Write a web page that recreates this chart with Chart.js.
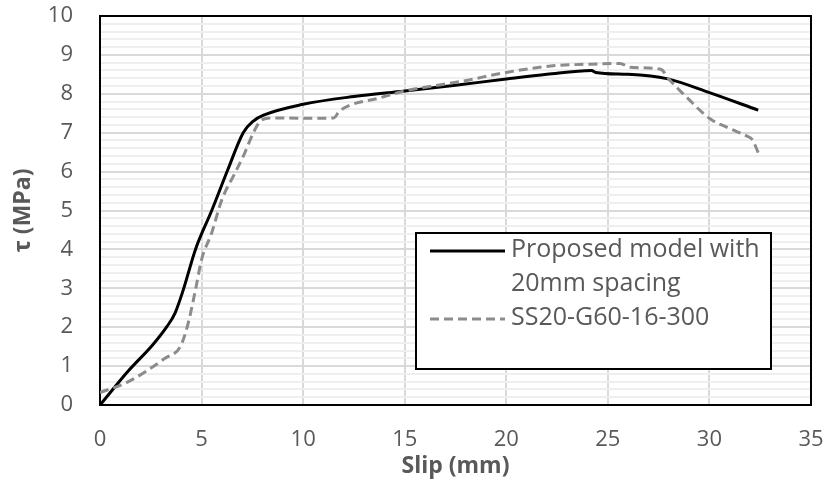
<!DOCTYPE html>
<html>
<head>
<meta charset="utf-8">
<script src="https://cdn.jsdelivr.net/npm/chart.js@4.4.1/dist/chart.umd.min.js"></script>
<style>
    html, body { margin: 0; padding: 0; background: #fff; }
    #wrap { width: 826px; height: 484px; }
</style>
</head>
<body>
<div id="wrap"><canvas id="slipChart" width="826" height="484"></canvas></div>
<script>
// slip (mm) and bond stress (MPa)
var slipModel = [0, 1.4, 2.6, 3.3, 3.7, 4.1, 4.7, 5.5, 6.3, 7.05, 7.55, 8.05, 10, 12.5, 15, 17.5, 20, 22, 24.2, 24.4, 26, 27.9, 30, 32.4];
var tauModel  = [0, 0.88, 1.55, 2.02, 2.37, 2.96, 4.0, 5.0, 6.06, 7.0, 7.3, 7.45, 7.73, 7.93, 8.07, 8.22, 8.38, 8.5, 8.6, 8.55, 8.5, 8.39, 8.03, 7.58];

var slipTest = [0, 1.4, 3.2, 3.95, 4.3, 4.7, 5.0, 5.5, 6.0, 6.65, 7.1, 7.55, 7.9, 8.4, 10.2, 11.5, 11.8, 13.8, 15, 17.9, 20, 22.3, 24, 25.6, 26.1, 27.6, 28.0, 28.9, 30.05, 30.9, 31.85, 32.1, 32.4];
var tauTest  = [0.32, 0.6, 1.2, 1.5, 2.02, 2.96, 3.74, 4.43, 5.28, 5.97, 6.45, 7.0, 7.3, 7.38, 7.37, 7.38, 7.56, 7.9, 8.07, 8.33, 8.55, 8.72, 8.76, 8.78, 8.68, 8.63, 8.38, 7.9, 7.35, 7.13, 6.91, 6.83, 6.49];

var xTicks = [0, 5, 10, 15, 20, 25, 30, 35];
var labelModel = ['Proposed model with', '20mm spacing'];
var labelTest = ['SS20-G60-16-300'];

var textGrey = '#595959';
Chart.defaults.font.family = '"Open Sans", sans-serif';

function toPoints(xs, ys) {
    return xs.map(function (x, i) { return {x: x, y: ys[i]}; });
}

function isWhole(v) {
    return Math.abs(v - Math.round(v)) < 1e-6;
}

// frame round the plot area
var frame = {
    id: 'frame',
    beforeDatasetsDraw: function (chart) {
        var a = chart.chartArea, ctx = chart.ctx;
        ctx.save();
        ctx.strokeStyle = '#000';
        ctx.lineWidth = 2;
        ctx.strokeRect(a.left, a.top, a.right - a.left, a.bottom - a.top);
        ctx.restore();
    }
};

// boxed legend like the excel one
var boxLegend = {
    id: 'boxLegend',
    afterDraw: function (chart) {
        var ctx = chart.ctx;
        var bx = 416, by = 233, bw = 355, bh = 136;
        ctx.save();
        ctx.fillStyle = '#fff';
        ctx.fillRect(bx, by, bw, bh);
        ctx.strokeStyle = '#000';
        ctx.lineWidth = 2;
        ctx.strokeRect(bx, by, bw, bh);

        ctx.font = '25px "Open Sans", sans-serif';
        ctx.fillStyle = textGrey;
        ctx.textBaseline = 'middle';
        var rowY = by + 17;
        chart.data.datasets.forEach(function (ds) {
            ctx.beginPath();
            ctx.strokeStyle = ds.borderColor;
            ctx.lineWidth = ds.borderWidth;
            ctx.setLineDash(ds.borderDash || []);
            ctx.moveTo(430, rowY + 1);
            ctx.lineTo(505, rowY + 1);
            ctx.stroke();
            ctx.setLineDash([]);
            ds.label.forEach(function (line) {
                ctx.fillText(line, 511, rowY);
                rowY += 34;
            });
        });
        ctx.restore();
    }
};

var ctx = document.getElementById('slipChart').getContext('2d');
var chart = new Chart(ctx, {
    type: 'line',
    data: {
        datasets: [{
            label: labelModel,
            data: toPoints(slipModel, tauModel),
            borderColor: '#000',
            borderWidth: 3,
            pointRadius: 0,
            cubicInterpolationMode: 'monotone',
            fill: false,
            order: 1
        }, {
            label: labelTest,
            data: toPoints(slipTest, tauTest),
            borderColor: '#8c8c8c',
            borderWidth: 3,
            borderDash: [9, 5],
            pointRadius: 0,
            cubicInterpolationMode: 'monotone',
            fill: false,
            order: 0
        }]
    },
    options: {
        responsive: false,
        animation: false,
        layout: { padding: { top: 16, right: 15, left: 0, bottom: 0 } },
        plugins: { legend: { display: false }, tooltip: { enabled: false } },
        scales: {
            x: {
                type: 'linear',
                min: 0,
                max: 35,
                afterFit: function (scale) {
                    scale.height = 79;
                    scale.paddingLeft = 0;
                    scale.paddingRight = 0;
                },
                afterBuildTicks: function (scale) {
                    scale.ticks = xTicks.map(function (v) { return {value: v}; });
                },
                border: { display: false },
                grid: { color: '#d9d9d9', lineWidth: 2, drawTicks: false },
                ticks: { color: textGrey, font: { size: 22 }, padding: 22, maxRotation: 0 },
                title: {
                    display: true,
                    text: 'Slip (mm)',
                    color: textGrey,
                    font: { size: 23, weight: 'bold' },
                    padding: { top: 0, bottom: 4 }
                }
            },
            y: {
                min: 0,
                max: 10,
                afterFit: function (scale) {
                    scale.width = 100;
                    scale.paddingTop = 0;
                    scale.paddingBottom = 0;
                },
                border: { display: false },
                grid: {
                    drawTicks: false,
                    color: function (c) { return isWhole(c.tick.value) ? '#d9d9d9' : '#efefef'; },
                    lineWidth: 2
                },
                ticks: {
                    stepSize: 0.2,
                    autoSkip: false,
                    color: textGrey,
                    font: { size: 22 },
                    padding: 27,
                    callback: function (v) { return isWhole(v) ? Math.round(v) : ''; }
                },
                title: {
                    display: true,
                    text: 'τ (MPa)',
                    color: textGrey,
                    font: { size: 23, weight: 'bold' },
                    padding: { top: 10, bottom: 0 }
                }
            }
        }
    },
    plugins: [frame, boxLegend]
});
</script>
</body>
</html>
